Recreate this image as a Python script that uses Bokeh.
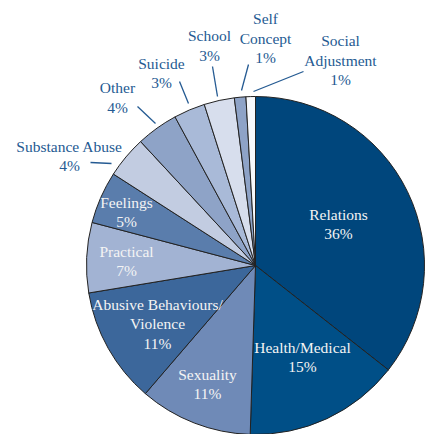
import math
from bokeh.plotting import figure
from bokeh.models import Range1d, ColumnDataSource
from bokeh.core.properties import value
from bokeh.embed import file_html
from bokeh.resources import INLINE

# ---- data ----
categories = ["Relations", "Health/Medical", "Sexuality", "Abusive Behaviours/\nViolence",
              "Practical", "Feelings", "Substance Abuse", "Other", "Suicide", "School",
              "Self\nConcept", "Social\nAdjustment"]
shares = [35.6, 14.9, 10.8, 11.1, 6.7, 5.0, 4.0, 4.0, 3.0, 2.9, 1.1, 0.9]
pct_labels = ["36%", "15%", "11%", "11%", "7%", "5%", "4%", "4%", "3%", "3%", "1%", "1%"]

# ---- style / layout ----
colors = ["#00467C", "#004F87", "#6F8AB7", "#3C679B", "#A2B3D3", "#5A7DAC",
          "#C2CCE1", "#8EA3C7", "#A9BAD8", "#D7DEED", "#8EA3C7", "#F7F9FC"]
inside = [True, True, True, True, True, True, False, False, False, False, False, False]
# label block centres in page pixels (x, y from top)
label_pos = [(338, 223.5), (302, 356.5), (207, 383.5), (157, 323), (126, 260.5), (126, 211.5),
             (69, 155.5), (117, 97), (161, 72.5), (209, 45), (265, 37.5), (340, 59.5)]
leaders = [None, None, None, None, None, None,
           ((90, 162), (111, 163)), ((137, 106), (155, 123)), ((179, 81), (188, 103)),
           ((212, 66), (217, 96)), ((248, 64), (241, 90)), ((303, 71), (253, 91))]
W, H = 425, 434
CX, CY, R = 255, 265, 169
LINE_H = 19.5
FONT = value("Liberation Serif")
OUT_COLOR = "#245A92"
IN_COLOR = "#F4F4F4"

p = figure(width=W, height=H, output_backend="svg", toolbar_location=None,
           x_range=Range1d(0, W), y_range=Range1d(0, H), min_border=0)
p.axis.visible = False
p.grid.visible = False
p.outline_line_color = None
p.background_fill_color = "white"

total = sum(shares)
starts, ends = [], []
cum = 0.0
for s in shares:
    a0 = math.pi / 2 - 2 * math.pi * cum / total
    cum += s
    a1 = math.pi / 2 - 2 * math.pi * cum / total
    starts.append(a0)
    ends.append(a1)

src = ColumnDataSource(dict(start=starts, end=ends, color=colors,
                            x=[CX] * len(shares), y=[H - CY] * len(shares)))
p.wedge(x="x", y="y", radius=R, start_angle="start", end_angle="end", direction="clock",
        fill_color="color", line_color="#222222", line_width=1, source=src)

tx, ty, tt, tc = [], [], [], []
for cat, pct, (lx, ly), ins in zip(categories, pct_labels, label_pos, inside):
    lines = cat.split("\n") + [pct]
    n = len(lines)
    for i, ln in enumerate(lines):
        tx.append(lx)
        ty.append(H - (ly + (i - (n - 1) / 2) * LINE_H))
        tt.append(ln)
        tc.append(IN_COLOR if ins else OUT_COLOR)
p.text(x=tx, y=ty, text=tt, text_color=tc, text_font=FONT, text_font_size="15.5px",
       text_align="center", text_baseline="middle")

xs, ys = [], []
for ld in leaders:
    if ld:
        xs.append([ld[0][0], ld[1][0]])
        ys.append([H - ld[0][1], H - ld[1][1]])
p.multi_line(xs=xs, ys=ys, line_color=OUT_COLOR, line_width=1.3)

open("out.html", "w").write(file_html(p, INLINE))
